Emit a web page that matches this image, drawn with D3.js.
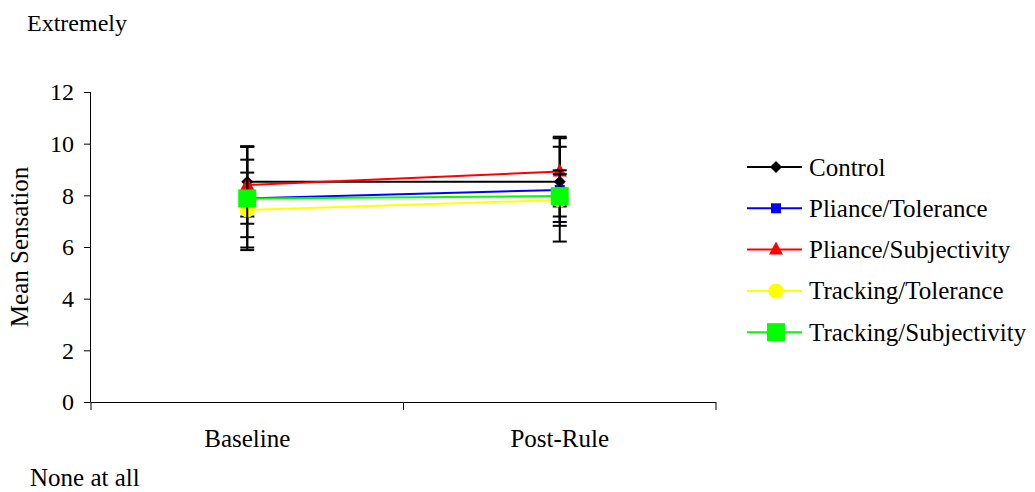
<!DOCTYPE html>
<html>
<head>
<meta charset="utf-8">
<script src="https://cdn.jsdelivr.net/npm/d3@7"></script>
<style>
  body { margin: 0; background: #fff; }
  svg { font-family: "Liberation Serif", "Times New Roman", serif; }
</style>
</head>
<body>
<div id="chart"></div>
<script>
// data
var phases = ['Baseline', 'Post-Rule'];
var seriesNames = ['Control', 'Pliance/Tolerance', 'Pliance/Subjectivity', 'Tracking/Tolerance', 'Tracking/Subjectivity'];
var control = [8.53, 8.53];
var plianceTol = [7.88, 8.21];
var plianceSubj = [8.4, 8.92];
var trackingTol = [7.43, 7.82];
var trackingSubj = [7.88, 7.97];
// +/- error bar sizes
var controlErr = [1.35, 1.35];
var plianceTolErr = [1.5, 2.0];
var plianceSubjErr = [1.5, 1.35];
var trackingTolErr = [1.45, 1.0];
var trackingSubjErr = [2.0, 1.0];
var yTicks = [0, 2, 4, 6, 8, 10, 12];

var colors = ['#000000', '#0000ff', '#ff0000', '#ffff00', '#00ff00'];
var shapes = ['diamond', 'square', 'triangle', 'circle', 'bigsquare'];

var series = seriesNames.map(function(name, i) {
  var vals = [control, plianceTol, plianceSubj, trackingTol, trackingSubj][i];
  var errs = [controlErr, plianceTolErr, plianceSubjErr, trackingTolErr, trackingSubjErr][i];
  return {
    name: name,
    color: colors[i],
    shape: shapes[i],
    points: phases.map(function(p, j) { return {phase: p, value: vals[j], err: errs[j]}; })
  };
});

var width = 1035, height = 492;
var svg = d3.select('#chart').append('svg')
  .attr('width', width)
  .attr('height', height);

var x = d3.scaleBand().domain(phases).range([91, 716]);
var y = d3.scaleLinear().domain([0, 12]).range([402, 92]);

// axes
var yAxis = d3.axisLeft(y).tickValues(yTicks).tickSize(7).tickPadding(10);
var gy = svg.append('g').attr('transform', 'translate(91,0)').call(yAxis);
gy.attr('font-family', null).attr('font-size', null);
gy.select('.domain').attr('d', 'M-0.5,92V402').attr('stroke', '#000');
gy.selectAll('.tick line').attr('stroke', '#000');
gy.selectAll('text').style('font-size', '24px').attr('fill', '#000');

var xAxis = d3.axisBottom(x).tickSize(0).tickPadding(0);
var gx = svg.append('g').attr('transform', 'translate(0,402)').call(xAxis);
gx.attr('font-family', null).attr('font-size', null);
gx.select('.domain').attr('d', 'M84,0.5H716').attr('stroke', '#000');
gx.selectAll('.tick line').remove();
gx.selectAll('text').attr('dy', null).attr('y', 45).style('font-size', '25px').attr('fill', '#000');
// boundary ticks between categories
var bounds = [x.range()[0], x(phases[1]), x.range()[1]];
gx.selectAll('.bound').data(bounds).enter().append('line')
  .attr('x1', function(d) { return d; })
  .attr('x2', function(d) { return d; })
  .attr('y1', 0).attr('y2', 8)
  .attr('stroke', '#000');

// axis titles
svg.append('text')
  .attr('transform', 'translate(28,247) rotate(-90)')
  .attr('text-anchor', 'middle')
  .style('font-size', '25px')
  .text('Mean Sensation');
svg.append('text').attr('x', 27).attr('y', 31).style('font-size', '24px').text('Extremely');
svg.append('text').attr('x', 30).attr('y', 486).style('font-size', '25px').text('None at all');

var cx = function(d) { return x(d.phase) + x.bandwidth() / 2; };

function drawMarker(g, shape, color, px, py) {
  if (shape === 'diamond') {
    g.append('path').attr('d', 'M' + px + ',' + (py - 6) + 'L' + (px + 6) + ',' + py + 'L' + px + ',' + (py + 6) + 'L' + (px - 6) + ',' + py + 'Z').attr('fill', color);
  } else if (shape === 'square') {
    g.append('rect').attr('x', px - 5).attr('y', py - 5).attr('width', 10).attr('height', 10).attr('fill', color);
  } else if (shape === 'triangle') {
    g.append('path').attr('d', 'M' + px + ',' + (py - 8) + 'L' + (px + 7) + ',' + (py + 5) + 'L' + (px - 7) + ',' + (py + 5) + 'Z').attr('fill', color);
  } else if (shape === 'circle') {
    g.append('circle').attr('cx', px).attr('cy', py).attr('r', 7.5).attr('fill', color);
  } else {
    g.append('rect').attr('x', px - 9).attr('y', py - 9).attr('width', 18).attr('height', 18).attr('fill', color);
  }
}

var line = d3.line().x(cx).y(function(d) { return y(d.value); });

series.forEach(function(s) {
  var g = svg.append('g').attr('class', 'series');
  // error bars
  s.points.forEach(function(d) {
    var px = cx(d);
    var top = y(d.value + d.err), bot = y(d.value - d.err);
    g.append('line').attr('x1', px).attr('x2', px).attr('y1', top).attr('y2', bot).attr('stroke', '#000').attr('stroke-width', 2);
    [top, bot].forEach(function(cy) {
      g.append('line').attr('x1', px - 7).attr('x2', px + 7).attr('y1', cy).attr('y2', cy).attr('stroke', '#000').attr('stroke-width', 2);
    });
  });
  g.append('path').datum(s.points).attr('d', line).attr('fill', 'none').attr('stroke', s.color).attr('stroke-width', 2);
  s.points.forEach(function(d) { drawMarker(g, s.shape, s.color, cx(d), y(d.value)); });
});

// legend
var legend = svg.append('g').attr('class', 'legend');
series.forEach(function(s, i) {
  var ly = 167 + i * 41.3;
  legend.append('line').attr('x1', 747).attr('x2', 802).attr('y1', ly).attr('y2', ly).attr('stroke', s.color).attr('stroke-width', 2);
  drawMarker(legend, s.shape, s.color, 776, ly);
  legend.append('text').attr('x', 809).attr('y', ly + 8.5).style('font-size', '25px').text(s.name);
});
</script>
</body>
</html>
